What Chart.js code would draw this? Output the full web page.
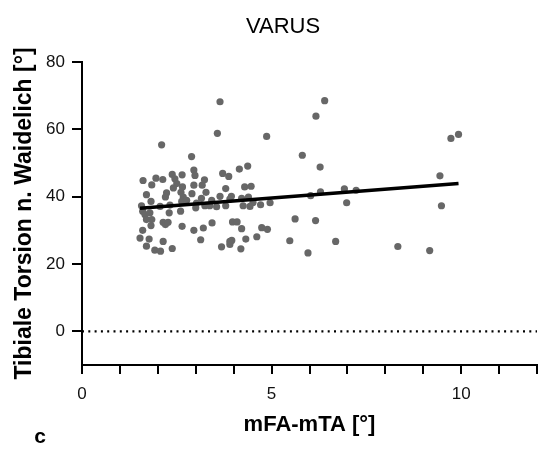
<!DOCTYPE html>
<html>
<head>
<meta charset="utf-8">
<script src="https://cdn.jsdelivr.net/npm/chart.js@4.4.1/dist/chart.umd.min.js"></script>
<style>
  html, body { margin: 0; padding: 0; background: #fff; }
  #wrap { width: 544px; height: 450px; position: relative; }
</style>
</head>
<body>
<div id="wrap"><canvas id="varusChart" width="544" height="450"></canvas></div>
<script>
// mFA-mTA [°]
const mfaMta = [
  3.64, 3.57, 2.10, 2.89, 2.95, 3.71, 3.87, 4.15, 1.61, 1.84, 1.95, 2.13, 2.38, 2.45, 2.64, 2.50,
  2.41, 2.65, 2.95, 3.17, 3.23, 3.79, 2.98,
  6.40, 6.17, 4.87, 5.81, 4.37, 6.28, 4.29, 4.46, 3.94, 4.21, 4.39, 4.51, 4.25, 4.43, 4.71, 4.96,
  6.03, 6.29, 6.92, 7.23, 6.98, 5.62, 6.16, 3.97, 4.09, 4.21, 4.74, 4.89, 4.61, 4.32, 3.95, 3.90,
  4.19, 5.48, 6.69, 5.96,
  9.93, 9.73, 9.44, 9.48, 8.33, 9.17,
  1.70, 2.23, 2.20, 2.61, 2.67, 2.90, 3.27, 3.15, 3.64, 3.90, 1.57, 1.82, 2.06, 2.32, 2.63, 2.76,
  3.02, 3.00, 3.24, 3.42, 3.37, 3.55, 3.79, 1.60, 1.66, 1.79, 1.70, 1.84, 1.82, 2.14, 2.20, 2.27,
  2.30, 2.60, 2.64, 2.95, 3.20, 3.43, 1.60, 1.53, 1.77, 2.14, 1.70, 1.92, 2.07, 2.38, 3.13, 3.68,
  3.90
];

// Tibiale Torsion n. Waidelich [°]
const torsion = [
  68.2, 58.8, 55.4, 51.9, 47.9, 46.9, 46.0, 48.2, 44.8, 43.5, 45.5, 45.1, 46.6, 45.3, 46.5, 43.9,
  42.6, 42.9, 43.4, 43.4, 45.0, 42.4, 46.3,
  68.5, 63.9, 57.9, 52.3, 49.1, 48.8, 42.9, 43.1, 40.1, 39.5, 39.9, 38.3, 37.3, 37.1, 37.6, 38.2,
  40.3, 41.4, 42.3, 41.9, 38.2, 33.4, 32.9, 32.5, 32.5, 30.5, 30.8, 30.3, 28.1, 27.4, 27.0, 25.8,
  24.5, 26.9, 26.7, 23.3,
  58.5, 57.3, 46.2, 37.3, 25.2, 24.0,
  40.6, 41.1, 39.9, 41.3, 39.9, 40.9, 41.3, 39.5, 40.1, 39.3, 37.3, 38.6, 37.1, 37.5, 38.6, 38.9,
  38.1, 36.7, 37.3, 38.9, 37.3, 37.0, 37.3, 35.7, 34.7, 35.2, 33.2, 33.2, 31.4, 32.4, 31.7, 32.4,
  35.2, 35.7, 31.2, 30.0, 30.7, 32.2, 30.0, 27.7, 27.4, 26.7, 25.3, 24.1, 23.8, 24.6, 27.2, 25.1,
  26.7
];

const yTicks = [0, 20, 40, 60, 80];
const xLabelTicks = [0, 5, 10];

const points = mfaMta.map((x, i) => ({ x: x, y: torsion[i] }));

// simple least squares fit over the points, drawn from min x to max x
function linearFit(xs, ys) {
  const n = xs.length;
  const mx = xs.reduce((a, b) => a + b, 0) / n;
  const my = ys.reduce((a, b) => a + b, 0) / n;
  let sxy = 0, sxx = 0;
  xs.forEach((x, i) => { sxy += (x - mx) * (ys[i] - my); sxx += (x - mx) * (x - mx); });
  const slope = sxy / sxx;
  return { slope: slope, intercept: my - slope * mx };
}
const fit = linearFit(mfaMta, torsion);
const xMin = Math.min(...mfaMta);
const xMax = Math.max(...mfaMta);
const fitLine = [xMin, xMax].map(x => ({ x: x, y: fit.intercept + fit.slope * x }));

const FONT = "'Liberation Sans', Arial, sans-serif";

// title and panel letter
const textPlugin = {
  id: 'texts',
  afterDraw(chart) {
    const ctx = chart.ctx;
    ctx.save();
    ctx.fillStyle = '#000';
    ctx.textAlign = 'center';
    ctx.textBaseline = 'middle';
    ctx.font = '22px ' + FONT;
    ctx.fillText('VARUS', 283, 27);
    ctx.font = 'bold 21px ' + FONT;
    ctx.fillText('c', 40, 437);
    ctx.restore();
  }
};

new Chart(document.getElementById('varusChart'), {
  type: 'scatter',
  data: {
    datasets: [
      {
        label: 'Messwerte',
        data: points,
        backgroundColor: '#676767',
        borderColor: '#676767',
        pointRadius: 3.6,
        pointBorderWidth: 0,
        order: 3
      },
      {
        label: 'Regression',
        type: 'line',
        data: fitLine,
        borderColor: '#000',
        borderWidth: 3.5,
        pointRadius: 0,
        fill: false,
        order: 1
      },
      {
        label: 'Null',
        type: 'line',
        data: [{ x: 0, y: 0 }, { x: 12, y: 0 }],
        borderColor: '#000',
        borderWidth: 2.2,
        borderDash: [2, 4.3],
        pointRadius: 0,
        fill: false,
        order: 2
      }
    ]
  },
  options: {
    responsive: false,
    animation: false,
    layout: { padding: { top: 62, right: 7, left: 0, bottom: 0 } },
    plugins: {
      legend: { display: false },
      tooltip: { enabled: false }
    },
    scales: {
      x: {
        type: 'linear',
        min: 0,
        max: 12,
        afterFit: scale => {
          scale.height = 85;
          scale.paddingLeft = 0;
          scale.paddingRight = 0;
        },
        afterBuildTicks: scale => {
          const t = [];
          for (let v = 0; v <= 12; v++) t.push({ value: v });
          scale.ticks = t;
        },
        border: { display: true, color: '#000', width: 2 },
        grid: { drawOnChartArea: false, drawTicks: true, tickLength: 9, color: '#000', lineWidth: 2 },
        ticks: {
          color: '#111',
          padding: 10,
          maxRotation: 0,
          autoSkip: false,
          font: { family: FONT, size: 17 },
          callback: v => xLabelTicks.includes(v) ? String(v) : ''
        },
        title: {
          display: true,
          text: 'mFA-mTA [°]',
          color: '#000',
          font: { family: FONT, size: 22, weight: 'bold' },
          padding: { top: 0, bottom: 12 }
        }
      },
      y: {
        type: 'linear',
        min: -10,
        max: 80,
        afterFit: scale => {
          scale.width = 82;
          scale.paddingTop = 0;
          scale.paddingBottom = 0;
        },
        afterBuildTicks: scale => { scale.ticks = yTicks.map(v => ({ value: v })); },
        border: { display: true, color: '#000', width: 2 },
        grid: { drawOnChartArea: false, drawTicks: true, tickLength: 10, color: '#000', lineWidth: 2 },
        ticks: {
          color: '#111',
          padding: 7,
          font: { family: FONT, size: 17 }
        },
        title: {
          display: true,
          text: 'Tibiale Torsion n. Waidelich [°]',
          color: '#000',
          font: { family: FONT, size: 23, weight: 'bold' },
          padding: { top: 11, bottom: 0 }
        }
      }
    }
  },
  plugins: [textPlugin]
});
</script>
</body>
</html>
